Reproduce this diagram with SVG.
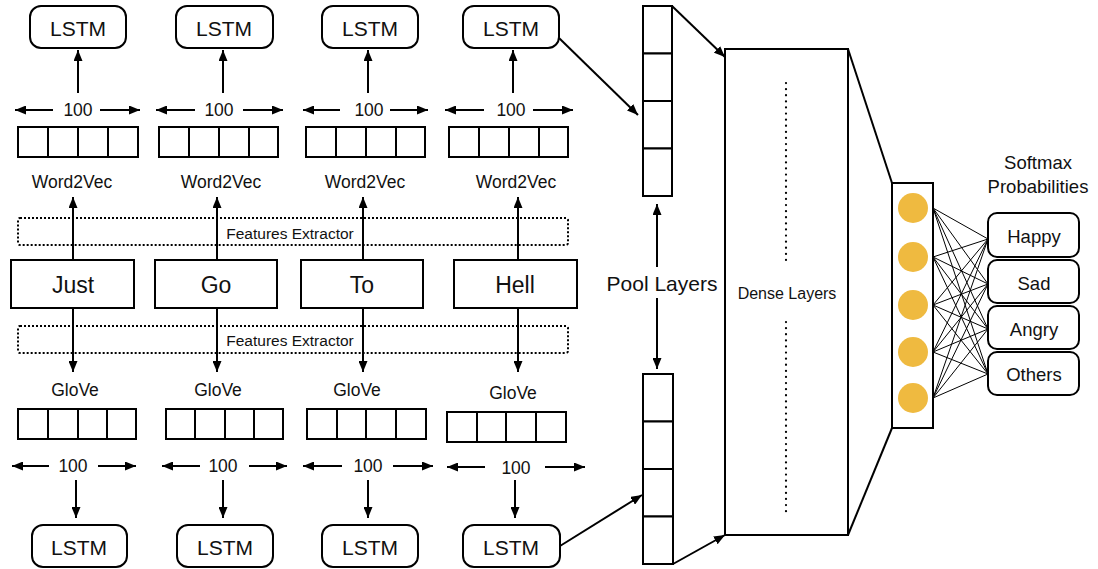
<svg xmlns="http://www.w3.org/2000/svg" width="1098" height="569" viewBox="0 0 1098 569">
<defs>
<marker id="ah" markerUnits="userSpaceOnUse" markerWidth="11" markerHeight="9" refX="11" refY="4.5" orient="auto">
<path d="M0,0 L11,4.5 L0,9 z" fill="#000"/>
</marker>
<style>
text{font-family:"Liberation Sans",Arial,sans-serif;fill:#111;text-anchor:middle;dominant-baseline:central}
.box{fill:#fff;stroke:#000;stroke-width:2}
.lstm{fill:#fff;stroke:#000;stroke-width:2}
.cell{fill:#fff;stroke:#000;stroke-width:2}
.ar{stroke:#000;stroke-width:2;fill:none;marker-end:url(#ah)}
.ln{stroke:#000;stroke-width:2;fill:none}
.thin{stroke:#000;stroke-width:1;fill:none}
.dot{fill:none;stroke:#000;stroke-width:2;stroke-dasharray:2 2}
.vdot{stroke:#000;stroke-width:2.2;stroke-dasharray:0.1 6;stroke-linecap:round;fill:none}
.t21{font-size:21px}
.t17{font-size:17.5px}
.t23{font-size:23px}
.t18{font-size:18.5px}
.t15{font-size:15.5px}
</style>
</defs>

<g id="connectors">
<line class="ar" x1="78" y1="93" x2="78" y2="50"/>
<line class="ar" x1="223" y1="93" x2="223" y2="50"/>
<line class="ar" x1="368" y1="93" x2="368" y2="50"/>
<line class="ar" x1="513" y1="93" x2="513" y2="50"/>
<line class="ar" x1="53" y1="110" x2="15" y2="110"/>
<line class="ar" x1="100" y1="110" x2="140" y2="110"/>
<line class="ar" x1="195" y1="110" x2="156" y2="110"/>
<line class="ar" x1="243" y1="110" x2="283" y2="110"/>
<line class="ar" x1="340" y1="110" x2="303" y2="110"/>
<line class="ar" x1="390" y1="110" x2="428" y2="110"/>
<line class="ar" x1="484" y1="110" x2="445" y2="110"/>
<line class="ar" x1="533" y1="110" x2="573" y2="110"/>
<line class="ar" x1="73" y1="260" x2="73" y2="197"/>
<line class="ar" x1="217" y1="260" x2="217" y2="197"/>
<line class="ar" x1="363" y1="260" x2="363" y2="197"/>
<line class="ar" x1="518" y1="260" x2="518" y2="197"/>
<line class="ar" x1="73" y1="308" x2="73" y2="372"/>
<line class="ar" x1="217" y1="308" x2="217" y2="372"/>
<line class="ar" x1="363" y1="308" x2="363" y2="372"/>
<line class="ar" x1="518" y1="308" x2="518" y2="372"/>
<line class="ar" x1="49" y1="466" x2="12" y2="466"/>
<line class="ar" x1="98" y1="466" x2="136" y2="466"/>
<line class="ar" x1="200" y1="466" x2="162" y2="466"/>
<line class="ar" x1="249" y1="466" x2="287" y2="466"/>
<line class="ar" x1="342" y1="466" x2="303" y2="466"/>
<line class="ar" x1="393" y1="466" x2="433" y2="466"/>
<line class="ar" x1="485" y1="467" x2="447" y2="467"/>
<line class="ar" x1="545" y1="467" x2="585" y2="467"/>
<line class="ar" x1="76" y1="480" x2="76" y2="518"/>
<line class="ar" x1="223" y1="480" x2="223" y2="518"/>
<line class="ar" x1="368" y1="480" x2="368" y2="518"/>
<line class="ar" x1="515" y1="480" x2="515" y2="518"/>
<line class="ar" x1="559" y1="38" x2="638" y2="115"/>
<line class="ar" x1="560" y1="546" x2="642" y2="495"/>
<line class="ar" x1="657" y1="267" x2="657" y2="204"/>
<line class="ar" x1="657" y1="298" x2="657" y2="369"/>
<line class="ar" x1="672" y1="6" x2="725" y2="57"/>
<line class="ar" x1="673" y1="564" x2="725" y2="535"/>
<line class="ln" x1="848" y1="49" x2="892" y2="183"/>
<line class="ln" x1="848" y1="535" x2="892" y2="428"/>
<g class="thin">
<path d="M933,208 L988,239 M933,208 L988,284 M933,208 L988,329 M933,208 L988,374"/>
<path d="M933,257 L988,239 M933,257 L988,284 M933,257 L988,329 M933,257 L988,374"/>
<path d="M933,305 L988,239 M933,305 L988,284 M933,305 L988,329 M933,305 L988,374"/>
<path d="M933,352 L988,239 M933,352 L988,284 M933,352 L988,329 M933,352 L988,374"/>
<path d="M933,398 L988,239 M933,398 L988,284 M933,398 L988,329 M933,398 L988,374"/>
</g>
</g>

<g id="fe-top">
<rect class="dot" x="18" y="218" width="550" height="27" rx="2"/>
<rect x="223" y="225" width="134" height="16" fill="#fff"/>
<text class="t15" x="290" y="233">Features Extractor</text>
</g>
<g id="fe-bottom">
<rect class="dot" x="18" y="326" width="550" height="27" rx="2"/>
<rect x="223" y="332" width="134" height="16" fill="#fff"/>
<text class="t15" x="290" y="340">Features Extractor</text>
</g>
<g id="connectors-over">
<line class="ln" x1="217" y1="222" x2="217" y2="245"/>
<line class="ln" x1="363" y1="222" x2="363" y2="245"/>
<line class="ln" x1="217" y1="326" x2="217" y2="352"/>
<line class="ln" x1="363" y1="326" x2="363" y2="352"/>
</g>

<g id="lstm-t1"><rect class="lstm" x="30" y="6" width="96" height="42" rx="11"/><text class="t21" x="78" y="28">LSTM</text></g>
<g id="lstm-t2"><rect class="lstm" x="176" y="6" width="97" height="42" rx="11"/><text class="t21" x="224" y="28">LSTM</text></g>
<g id="lstm-t3"><rect class="lstm" x="322" y="6" width="96" height="42" rx="11"/><text class="t21" x="370" y="28">LSTM</text></g>
<g id="lstm-t4"><rect class="lstm" x="463" y="6" width="96" height="42" rx="11"/><text class="t21" x="511" y="28">LSTM</text></g>

<g id="dim-t">
<text class="t17" x="78" y="110">100</text>
<text class="t17" x="219" y="110">100</text>
<text class="t17" x="369" y="110">100</text>
<text class="t17" x="511" y="110">100</text>
</g>

<g id="w2v-1"><rect class="cell" x="18" y="127" width="30" height="30"/><rect class="cell" x="48" y="127" width="30" height="30"/><rect class="cell" x="78" y="127" width="30" height="30"/><rect class="cell" x="108" y="127" width="30" height="30"/><text class="t17" x="72" y="182">Word2Vec</text></g>
<g id="w2v-2"><rect class="cell" x="159" y="127" width="30" height="30"/><rect class="cell" x="189" y="127" width="30" height="30"/><rect class="cell" x="219" y="127" width="30" height="30"/><rect class="cell" x="249" y="127" width="29" height="30"/><text class="t17" x="221" y="182">Word2Vec</text></g>
<g id="w2v-3"><rect class="cell" x="306" y="127" width="30" height="30"/><rect class="cell" x="336" y="127" width="30" height="30"/><rect class="cell" x="366" y="127" width="30" height="30"/><rect class="cell" x="396" y="127" width="29" height="30"/><text class="t17" x="365" y="182">Word2Vec</text></g>
<g id="w2v-4"><rect class="cell" x="449" y="127" width="30" height="30"/><rect class="cell" x="479" y="127" width="30" height="30"/><rect class="cell" x="509" y="127" width="30" height="30"/><rect class="cell" x="539" y="127" width="29" height="30"/><text class="t17" x="516" y="182">Word2Vec</text></g>

<g id="w-just"><rect class="box" x="11" y="260" width="123" height="48"/><text class="t23" x="73" y="285">Just</text></g>
<g id="w-go"><rect class="box" x="155" y="260" width="122" height="48"/><text class="t23" x="216" y="285">Go</text></g>
<g id="w-to"><rect class="box" x="301" y="260" width="122" height="48"/><text class="t23" x="362" y="285">To</text></g>
<g id="w-hell"><rect class="box" x="454" y="260" width="123" height="48"/><text class="t23" x="515" y="285">Hell</text></g>

<g id="glove-1"><text class="t17" x="75" y="390">GloVe</text><rect class="cell" x="18" y="409" width="30" height="30"/><rect class="cell" x="48" y="409" width="30" height="30"/><rect class="cell" x="78" y="409" width="29" height="30"/><rect class="cell" x="107" y="409" width="29" height="30"/></g>
<g id="glove-2"><text class="t17" x="218" y="390">GloVe</text><rect class="cell" x="166" y="409" width="29" height="30"/><rect class="cell" x="195" y="409" width="30" height="30"/><rect class="cell" x="225" y="409" width="29" height="30"/><rect class="cell" x="254" y="409" width="29" height="30"/></g>
<g id="glove-3"><text class="t17" x="357" y="390">GloVe</text><rect class="cell" x="307" y="409" width="30" height="30"/><rect class="cell" x="337" y="409" width="29" height="30"/><rect class="cell" x="366" y="409" width="30" height="30"/><rect class="cell" x="396" y="409" width="30" height="30"/></g>
<g id="glove-4"><text class="t17" x="513" y="393">GloVe</text><rect class="cell" x="447" y="412" width="30" height="30"/><rect class="cell" x="477" y="412" width="29" height="30"/><rect class="cell" x="506" y="412" width="30" height="30"/><rect class="cell" x="536" y="412" width="30" height="30"/></g>

<g id="dim-b">
<text class="t17" x="73" y="466">100</text>
<text class="t17" x="223" y="466">100</text>
<text class="t17" x="368" y="466">100</text>
<text class="t17" x="516" y="468">100</text>
</g>

<g id="lstm-b1"><rect class="lstm" x="32" y="525" width="95" height="42" rx="11"/><text class="t21" x="79" y="547">LSTM</text></g>
<g id="lstm-b2"><rect class="lstm" x="177" y="525" width="96" height="42" rx="11"/><text class="t21" x="225" y="547">LSTM</text></g>
<g id="lstm-b3"><rect class="lstm" x="322" y="525" width="96" height="42" rx="11"/><text class="t21" x="370" y="547">LSTM</text></g>
<g id="lstm-b4"><rect class="lstm" x="463" y="525" width="97" height="42" rx="11"/><text class="t21" x="511" y="547">LSTM</text></g>

<g id="pool-top"><rect class="cell" x="643" y="6" width="29" height="47.5"/><rect class="cell" x="643" y="53.5" width="29" height="47.5"/><rect class="cell" x="643" y="101" width="29" height="47.5"/><rect class="cell" x="643" y="148.5" width="29" height="47.5"/></g>
<g id="pool-label"><text class="t21" x="662" y="283">Pool Layers</text></g>
<g id="pool-bottom"><rect class="cell" x="643" y="374" width="30" height="47.5"/><rect class="cell" x="643" y="421.5" width="30" height="47.5"/><rect class="cell" x="643" y="469" width="30" height="47.5"/><rect class="cell" x="643" y="516.5" width="30" height="47.5"/></g>

<g id="dense">
<rect class="box" x="725" y="49" width="123" height="486"/>
<line class="vdot" x1="786" y1="83" x2="786" y2="262"/>
<line class="vdot" x1="786" y1="322" x2="786" y2="513"/>
<text x="787" y="293" font-size="16">Dense Layers</text>
</g>

<g id="softmax">
<rect class="box" x="892" y="183" width="41" height="245"/>
<circle cx="913" cy="208" r="15" fill="#EFBA40"/>
<circle cx="913" cy="257" r="15" fill="#EFBA40"/>
<circle cx="913" cy="305" r="15" fill="#EFBA40"/>
<circle cx="913" cy="352" r="15" fill="#EFBA40"/>
<circle cx="913" cy="398" r="15" fill="#EFBA40"/>
</g>
<g id="softmax-label"><text class="t18" x="1038" y="162">Softmax</text><text class="t18" x="1038" y="186">Probabilities</text></g>

<g id="out-happy"><rect class="lstm" x="988" y="213" width="91" height="44" rx="9"/><text class="t18" x="1034" y="236">Happy</text></g>
<g id="out-sad"><rect class="lstm" x="988" y="260" width="91" height="43" rx="9"/><text class="t18" x="1034" y="283">Sad</text></g>
<g id="out-angry"><rect class="lstm" x="988" y="306" width="91" height="43" rx="9"/><text class="t18" x="1034" y="329">Angry</text></g>
<g id="out-others"><rect class="lstm" x="988" y="352" width="91" height="43" rx="9"/><text class="t18" x="1034" y="374">Others</text></g>
</svg>
